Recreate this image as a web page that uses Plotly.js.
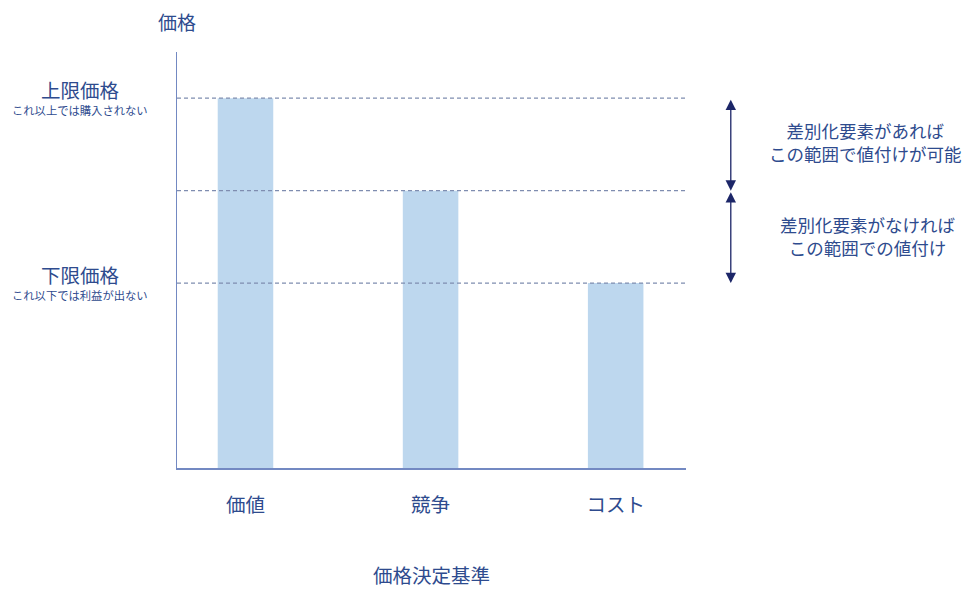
<!DOCTYPE html>
<html><head><meta charset="utf-8">
<script src="https://cdn.plot.ly/plotly-3.0.1.min.js"></script>
<style>html,body{margin:0;padding:0;background:#fff}#chart{width:980px;height:600px}</style>
</head><body><div id="chart"></div>
<script>
const categories = ["価値", "競争", "コスト"];
const values = [4, 3, 2];
const levelValues = [4, 3, 2];
const levelLabels = [
  {main: "上限価格", sub: "これ以上では購入されない", y: 4},
  {main: "下限価格", sub: "これ以下では利益が出ない", y: 2}
];
const rangeNotes = [
  {text: "差別化要素があれば<br>この範囲で値付けが可能", from: 4, to: 3},
  {text: "差別化要素がなければ<br>この範囲での値付け", from: 3, to: 2}
];
const yTitle = "価格";
const xTitle = "価格決定基準";

const FONT = '"Noto Sans CJK JP", "Noto Sans", sans-serif';
const TXT = '#2E4B8E';

const shapes = levelValues.map(v => ({
  type: 'line', xref: 'paper', x0: 0, x1: 1, yref: 'y', y0: v, y1: v,
  line: {color: '#7F8DB0', width: 1.2, dash: '4px,3px'}
}));

const annotations = [];
levelLabels.forEach(l => {
  annotations.push({xref: 'paper', x: -0.19, yref: 'y', y: l.y, yshift: 9, text: l.main, showarrow: false,
    font: {family: FONT, size: 19.5, color: TXT}, xanchor: 'center', yanchor: 'middle'});
  annotations.push({xref: 'paper', x: -0.19, yref: 'y', y: l.y, yshift: -12, text: l.sub, showarrow: false,
    font: {family: FONT, size: 11.3, color: TXT}, xanchor: 'center', yanchor: 'middle'});
});
rangeNotes.forEach((r, i) => {
  annotations.push({xref: 'paper', x: 1.088, yref: 'y', y: r.to, ax: 0, ay: r.from, axref: 'pixel', ayref: 'y',
    text: '', showarrow: true, arrowhead: 2, startarrowhead: 2, arrowside: 'end+start',
    arrowsize: 1.6, startarrowsize: 1.6, arrowwidth: 1.3, arrowcolor: '#1C2668', standoff: 0, startstandoff: 0});
  annotations.push({xref: 'paper', x: i === 0 ? 1.352 : 1.357, yref: 'y', y: (r.from + r.to) / 2, yshift: i === 0 ? 2 : 1,
    text: r.text, showarrow: false, align: 'center',
    font: {family: FONT, size: 17.5, color: TXT}, xanchor: 'center', yanchor: 'middle'});
});
annotations.push({xref: 'paper', x: 0, xanchor: 'center', yref: 'paper', y: 1, yshift: 46, text: yTitle,
  showarrow: false, font: {family: FONT, size: 19, color: TXT}});

const data = [{
  type: 'bar', x: categories, y: values, width: 0.3,
  marker: {color: '#BDD7EE', line: {width: 0}}, hoverinfo: 'none'
}];

const layout = {
  width: 980, height: 600,
  margin: {l: 177, r: 294, t: 52, b: 132},
  paper_bgcolor: '#fff', plot_bgcolor: '#fff',
  showlegend: false,
  font: {family: FONT, color: TXT},
  xaxis: {
    range: [-0.37, 2.38], showgrid: false, zeroline: false,
    showline: true, linecolor: '#7389C2', linewidth: 1.5,
    ticks: '', ticklabelstandoff: 19,
    tickfont: {family: FONT, size: 19.5, color: TXT},
    title: {text: xTitle, font: {family: FONT, size: 19.5, color: TXT}, standoff: 52}
  },
  yaxis: {
    range: [0, 4.5], showgrid: false, zeroline: false,
    showline: true, linecolor: '#7389C2', linewidth: 1.5,
    ticks: '', showticklabels: false
  },
  shapes: shapes,
  annotations: annotations
};

Plotly.newPlot('chart', data, layout, {staticPlot: true});
</script>
</body></html>
